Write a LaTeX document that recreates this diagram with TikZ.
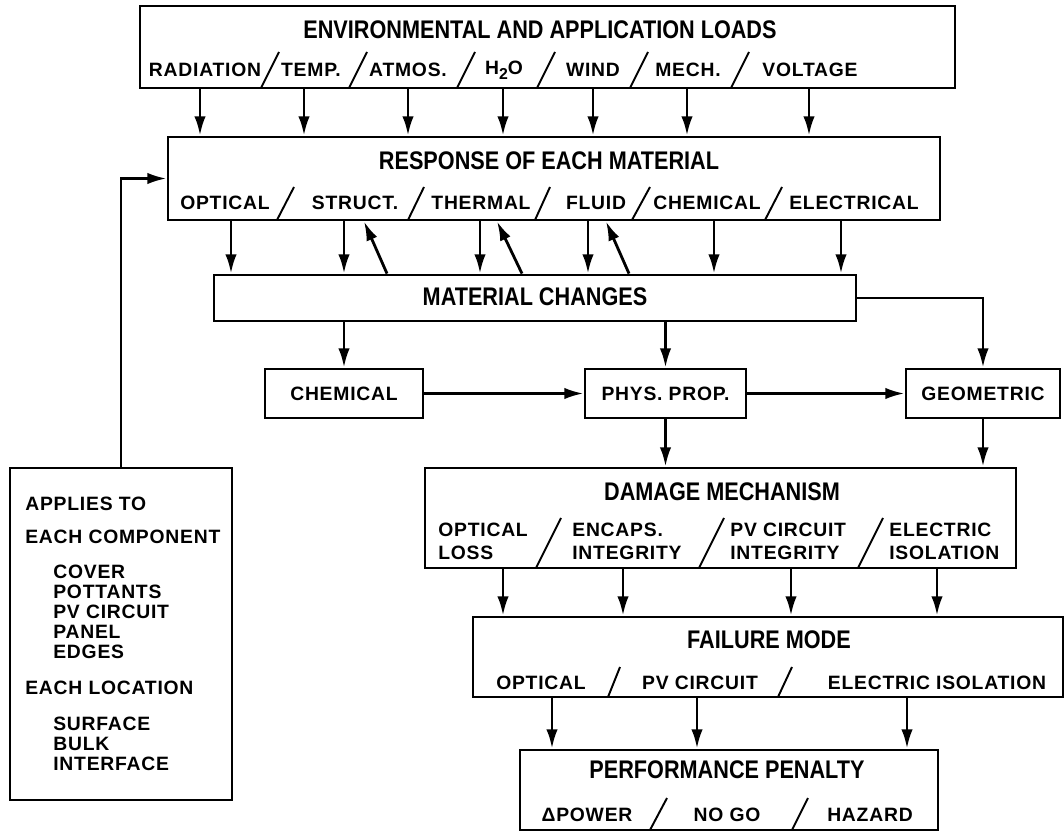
\documentclass[tikz,border=0pt]{standalone}
\usepackage{fontspec}
\setmainfont{Liberation Sans}
\newfontfamily\titelfont[FakeStretch=0.85]{Liberation Sans}
\newfontfamily\labelfont[LetterSpace=4]{Liberation Sans}
\usetikzlibrary{arrows.meta}

\tikzset{
  kasten/.style={draw, line width=1.6pt, inner sep=0pt},
  titel/.style={font=\titelfont\bfseries\fontsize{14.5}{16}\selectfont, inner sep=0pt},
  lab/.style={font=\labelfont\bfseries\fontsize{11}{13}\selectfont, inner sep=0pt},
  pfeil/.style={line width=1.6pt, -{Latex[length=11pt,width=6.5pt]}},
  strich/.style={line width=1.1pt},
}

\begin{document}
\begin{tikzpicture}[x=0.02cm, y=-0.02cm]

		\useasboundingbox (0,0) rectangle (1064,834);

		% --- Kaesten ---
		\node[kasten, minimum width=16.3cm, minimum height=1.64cm] (loads) at (547.5,47) {};
		\node[kasten, minimum width=15.44cm, minimum height=1.66cm] (resp) at (554,178.5) {};
		\node[kasten, minimum width=12.84cm, minimum height=0.92cm] (chg) at (535,298) {};
		\node[kasten, minimum width=3.16cm, minimum height=0.98cm] (chem) at (344,393.5) {};
		\node[kasten, minimum width=3.22cm, minimum height=0.98cm] (phys) at (665.5,393.5) {};
		\node[kasten, minimum width=3.08cm, minimum height=0.98cm] (geo) at (983,393.5) {};
		\node[kasten, minimum width=11.82cm, minimum height=2.0cm] (dmg) at (720.5,518) {};
		\node[kasten, minimum width=11.8cm, minimum height=1.6cm] (fail) at (768,657) {};
		\node[kasten, minimum width=8.36cm, minimum height=1.6cm] (perf) at (729,790) {};
		\node[kasten, minimum width=4.44cm, minimum height=6.64cm] (note) at (121,634) {};

		% --- Titel ---
		\node[titel] (loadsT) at (540,30) {ENVIRONMENTAL AND APPLICATION LOADS};
		\node[titel] (respT) at (549,161) {RESPONSE OF EACH MATERIAL};
		\node[titel] (chgT) at (535,297) {MATERIAL CHANGES};
		\node[titel] (dmgT) at (722,492) {DAMAGE MECHANISM};
		\node[titel] (failT) at (769,640) {FAILURE MODE};
		\node[titel] (perfT) at (727,770) {PERFORMANCE PENALTY};

		% --- Lasten ---
		\node[lab] (rad) at (205,70) {RADIATION};
		\node[lab] (temp) at (311,70) {TEMP.};
		\node[lab] (atm) at (408,70) {ATMOS.};
		\node[lab] (water) at (504,70) {H\raisebox{-0.45ex}{\fontsize{9}{9}\selectfont 2}O};
		\node[lab] (wind) at (593,70) {WIND};
		\node[lab] (mech) at (688,70) {MECH.};
		\node[lab] (volt) at (810,70) {VOLTAGE};
		\foreach \m in {270,358,466,546,639,740}
			\draw[strich] (\m-9,88) -- (\m+9,52);

		% --- Antwort ---
		\node[lab] (opt) at (225,203) {OPTICAL};
		\node[lab] (struct) at (355,203) {STRUCT.};
		\node[lab] (therm) at (481,203) {THERMAL};
		\node[lab] (fluid) at (596,203) {FLUID};
		\node[lab] (chemr) at (707,203) {CHEMICAL};
		\node[lab] (elec) at (854,203) {ELECTRICAL};
		\foreach \a/\b in {277/294,408/424,535/550,632/650,765/782}
			\draw[strich] (\a,220) -- (\b,187);

		% --- kleine Kaesten ---
		\node[lab] (chemT) at (chem) {CHEMICAL};
		\node[lab] (physT) at (phys) {PHYS. PROP.};
		\node[lab] (geoT) at (geo) {GEOMETRIC};

		% --- Schaden ---
		\node[lab, align=left, anchor=west] (optl) at (438,541.5) {OPTICAL\\LOSS};
		\node[lab, align=left, anchor=west] (encaps) at (572,541.5) {ENCAPS.\\INTEGRITY};
		\node[lab, align=left, anchor=west] (pvc) at (730,541.5) {PV CIRCUIT\\INTEGRITY};
		\node[lab, align=left, anchor=west] (eiso) at (889,541.5) {ELECTRIC\\ISOLATION};
		\foreach \a/\b in {536/561,699/724,858/883}
			\draw[strich] (\a,568) -- (\b,518);

		% --- Versagen ---
		\node[lab] (optf) at (541,683) {OPTICAL};
		\node[lab] (pvf) at (700,683) {PV CIRCUIT};
		\node[lab] (eisof) at (937,683) {ELECTRIC ISOLATION};
		\foreach \a/\b in {608/620,778/792}
			\draw[strich] (\a,697) -- (\b,667);

		% --- Leistung ---
		\node[lab] (dpow) at (587,815) {ΔPOWER};
		\node[lab] (nogo) at (727,815) {NO GO};
		\node[lab] (haz) at (870,815) {HAZARD};
		\foreach \a/\b in {650/667,792/808}
			\draw[strich] (\a,830) -- (\b,798);

		% --- Anmerkung links ---
		\node[lab, font=\labelfont\bfseries\fontsize{11}{11.4}\selectfont, align=left, anchor=north west] (noteT) at (25,497) {APPLIES TO\\[7pt]
			EACH COMPONENT\\[8.5pt]
			\hspace*{0.56cm}COVER\\
			\hspace*{0.56cm}POTTANTS\\
			\hspace*{0.56cm}PV CIRCUIT\\
			\hspace*{0.56cm}PANEL\\
			\hspace*{0.56cm}EDGES\\[9pt]
			EACH LOCATION\\[9.5pt]
			\hspace*{0.56cm}SURFACE\\
			\hspace*{0.56cm}BULK\\
			\hspace*{0.56cm}INTERFACE};

		% --- Pfeile ---
		\foreach \x in {200,304,408,503,593,687,809}
			\draw[pfeil] (\x,0 |- loads.south) -- (\x,0 |- resp.north);
		\foreach \x in {231,344,480,588,714,841}
			\draw[pfeil] (\x,0 |- resp.south) -- (\x,0 |- chg.north);
		\foreach \a/\b in {387/364,522/497,629/606}
			\draw[pfeil] (\a,0 |- chg.north) -- (\b,0 |- resp.south);
		\draw[pfeil] (note.north) |- (resp.west);
		\draw[pfeil] (chem.north |- chg.south) -- (chem.north);
		\draw[pfeil] (phys.north |- chg.south) -- (phys.north);
		\draw[pfeil] (chg.east) -| (geo.north);
		\draw[pfeil] (chem.east) -- (phys.west);
		\draw[pfeil] (phys.east) -- (geo.west);
		\draw[pfeil] (phys.south) -- (phys.south |- dmg.north);
		\draw[pfeil] (geo.south) -- (geo.south |- dmg.north);
		\foreach \x in {503,623,791,937}
			\draw[pfeil] (\x,0 |- dmg.south) -- (\x,0 |- fail.north);
		\foreach \x in {552,697,907}
			\draw[pfeil] (\x,0 |- fail.south) -- (\x,0 |- perf.north);

	\end{tikzpicture}
\end{document}
